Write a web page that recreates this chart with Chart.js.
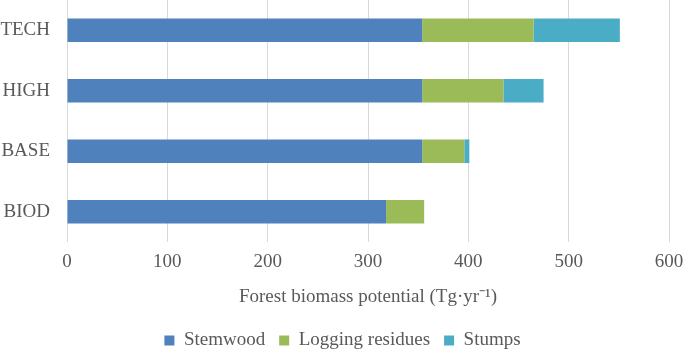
<!DOCTYPE html>
<html>
<head>
<meta charset="utf-8">
<script src="https://cdn.jsdelivr.net/npm/chart.js@4.4.1/dist/chart.umd.min.js"></script>
<style>
  html, body { margin: 0; padding: 0; background: #ffffff; }
  #wrap { width: 685px; height: 351px; position: relative; }
</style>
</head>
<body>
<div id="wrap"><canvas id="chart"></canvas></div>
<script>
// Scénarios (haut vers bas) et potentiel de biomasse forestière en Tg/an
const scenarios = ['TECH', 'HIGH', 'BASE', 'BIOD'];
const stemwood = [354, 354, 354, 318];
const loggingResidues = [111, 81, 42, 38];
const stumps = [86, 40, 5, 0];
const xTicks = [0, 100, 200, 300, 400, 500, 600];

const serif = '"Liberation Serif", "Times New Roman", serif';
const textColor = '#595959';

new Chart(document.getElementById('chart').getContext('2d'), {
    type: 'bar',
    data: {
        labels: scenarios,
        datasets: [
            { label: 'Stemwood', data: stemwood, backgroundColor: '#4f81bd' },
            { label: 'Logging residues', data: loggingResidues, backgroundColor: '#9bbb59' },
            { label: 'Stumps', data: stumps, backgroundColor: '#4bacc6' }
        ]
    },
    options: {
        indexAxis: 'y',
        responsive: true,
        maintainAspectRatio: false,
        animation: false,
        layout: { padding: { left: 0, right: 0, top: 0, bottom: -9 } },
        datasets: {
            bar: { categoryPercentage: 1, barPercentage: 0.39, borderWidth: 0 }
        },
        plugins: {
            tooltip: { enabled: false },
            legend: {
                display: true,
                position: 'bottom',
                labels: {
                    color: textColor,
                    font: { family: serif, size: 19 },
                    boxWidth: 10,
                    boxHeight: 10,
                    padding: 14
                }
            }
        },
        scales: {
            x: {
                stacked: true,
                min: 0,
                max: 600,
                afterBuildTicks: (scale) => { scale.ticks = xTicks.map(v => ({ value: v })); },
                grid: { color: '#d9d9d9', lineWidth: 1, drawTicks: false },
                border: { display: false },
                ticks: { color: textColor, font: { family: serif, size: 19 }, padding: 9 },
                title: {
                    display: true,
                    text: 'Forest biomass potential (Tg·yr⁻¹)',
                    color: textColor,
                    font: { family: serif, size: 19 },
                    padding: { top: 4, bottom: 9 }
                },
                afterFit: (scale) => {
                    scale.paddingLeft = 0;
                    scale.paddingRight = 16;
                    scale.height = 75;
                }
            },
            y: {
                stacked: true,
                grid: { display: false, drawTicks: false },
                border: { display: false },
                ticks: { color: textColor, font: { family: serif, size: 19 }, padding: 17 },
                afterFit: (scale) => {
                    scale.width = 67;
                    scale.paddingTop = 0;
                    scale.paddingBottom = 0;
                }
            }
        }
    }
});
</script>
</body>
</html>
